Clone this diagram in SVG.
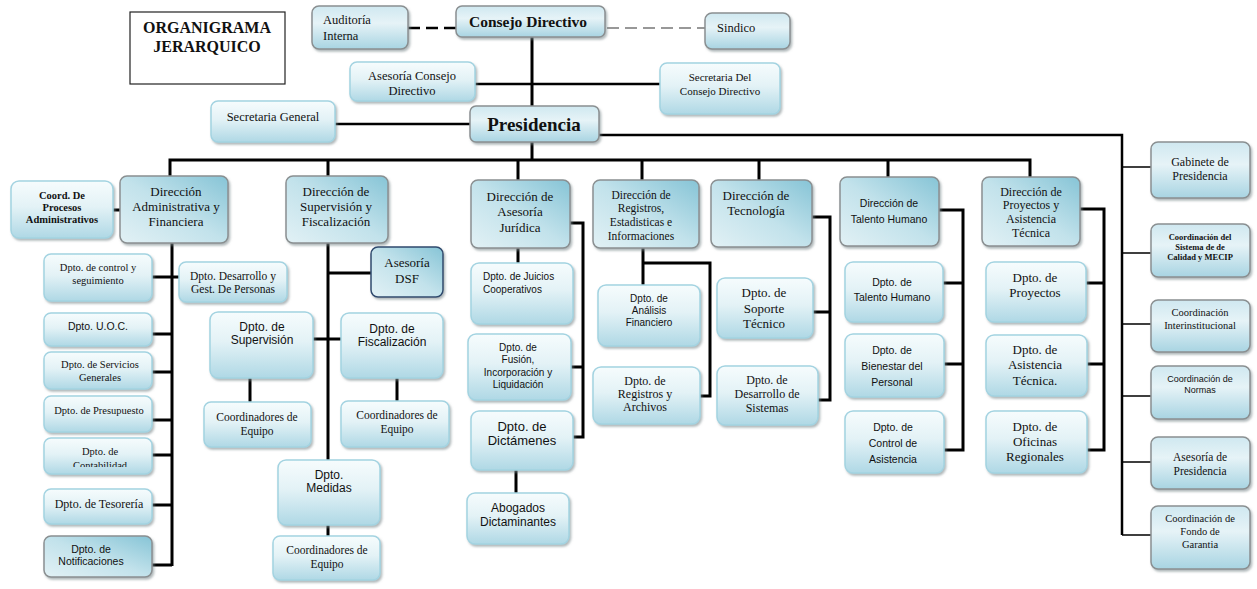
<svg xmlns="http://www.w3.org/2000/svg" width="1257" height="589" viewBox="0 0 1257 589">
<defs>
<linearGradient id="gl" x1="0" y1="0" x2="0" y2="1"><stop offset="0" stop-color="#f6fcfd"/><stop offset="0.45" stop-color="#e3f2f6"/><stop offset="1" stop-color="#afd8e5"/></linearGradient>
<linearGradient id="gd" x1="0" y1="1" x2="1" y2="0"><stop offset="0" stop-color="#e2f1f5"/><stop offset="0.5" stop-color="#c2e2eb"/><stop offset="1" stop-color="#86c4d6"/></linearGradient>
<linearGradient id="gt" x1="0" y1="0" x2="0" y2="1"><stop offset="0" stop-color="#cfe8f0"/><stop offset="0.4" stop-color="#e6f3f7"/><stop offset="1" stop-color="#a8d4e2"/></linearGradient>
<filter id="sh" x="-10%" y="-10%" width="130%" height="140%"><feDropShadow dx="1.5" dy="2" stdDeviation="1" flood-color="#7d8a8e" flood-opacity="0.6"/></filter>
<clipPath id="cc"><rect x="44" y="438" width="108" height="29"/></clipPath>
</defs>
<style>
rect.l{fill:url(#gl);stroke:#a3d3e1;stroke-width:1.5;filter:url(#sh)}
rect.d{fill:url(#gd);stroke:#8a8f91;stroke-width:1.5;filter:url(#sh)}
rect.t{fill:url(#gt);stroke:#8a8f91;stroke-width:1.5;filter:url(#sh)}
rect.n{fill:url(#gd);stroke:#2f4a6e;stroke-width:1.5;filter:url(#sh)}
text{fill:#111;text-anchor:middle}
.s{font-family:"Liberation Serif","Times New Roman",serif}
.a{font-family:"Liberation Sans",Arial,sans-serif}
.bd{font-weight:bold}
#conn path{fill:none;stroke:#000;stroke-width:3}
#conn path.m{stroke-width:2.5}
#conn path.f{stroke-width:1.6}
</style>
<g id="conn">
<path d="M408,28 H457" style="stroke-dasharray:12,6;stroke-width:2.5"/>
<path d="M607,28 H706" style="stroke:#777;stroke-dasharray:12,6;stroke-width:1.5"/>
<path d="M532,37 V107"/>
<path class="m" d="M475,84 H660"/>
<path class="m" d="M335,124 H470"/>
<path class="m" d="M599,135 H1122 V535"/>
<path class="f" d="M1122,167 H1151 M1122,253 H1151 M1122,324 H1151 M1122,396 H1151 M1122,462 H1151 M1122,535 H1151"/>
<path d="M532,142 V160"/>
<path d="M170,177 V160 H1030 V177"/>
<path d="M328,160 V176 M518,160 V180 M642,160 V180 M759,160 V180 M888,160 V177"/>
<path d="M113,210 H120"/>
<path d="M172,243 V566"/>
<path d="M152,277 H179 M152,334 H172 M152,372 H172 M152,420 H172 M152,455 H172 M152,505 H172 M152,565 H172"/>
<path d="M328,243 V460 M328,273 H371 M313,339 H341 M250,378 V402 M397,378 V401 M328,525 V536"/>
<path d="M570,223 H583 V437 H573 M571,367 H583 M518,248 V263 M516,470 V493"/>
<path d="M643,248 V285 M643,263 H710 V396 H700"/>
<path d="M812,217 H830 V400 H818 M813,312 H830"/>
<path d="M939,210 H963 V450 H944 M943,283 H963 M944,364 H963"/>
<path d="M1080,209 H1104 V450 H1087 M1086,283 H1104 M1087,364 H1104"/>
</g>

<g id="titulo"><rect x="130" y="12" width="155" height="72" fill="#fff" stroke="#222" stroke-width="1.2"/><text class="s bd" x="207" y="33" font-size="16">ORGANIGRAMA</text><text class="s bd" x="207" y="52" font-size="16">JERARQUICO</text></g>

<g id="auditoria"><rect class="t" x="312" y="6" width="96" height="43" rx="7"/><text class="s" x="323" y="24" font-size="12.5" style="text-anchor:start">Auditoría</text><text class="s" x="323" y="40" font-size="12.5" style="text-anchor:start">Interna</text></g>
<g id="consejo"><rect class="t" x="456" y="6" width="149" height="31" rx="6"/><text class="s bd" x="528" y="27" font-size="15.5">Consejo Directivo</text></g>
<g id="sindico"><rect class="t" x="705" y="13" width="85" height="36" rx="7"/><text class="s" x="717" y="32" font-size="12.5" style="text-anchor:start">Sindico</text></g>
<g id="asesoria-consejo"><rect class="l" x="350" y="62" width="125" height="39" rx="7"/><text class="s" x="412" y="80" font-size="12.5">Asesoría Consejo</text><text class="s" x="412" y="95" font-size="12.5">Directivo</text></g>
<g id="secretaria-consejo"><rect class="l" x="660" y="63" width="120" height="51" rx="7"/><text class="s" x="720" y="81" font-size="11">Secretaria  Del</text><text class="s" x="720" y="95" font-size="11">Consejo Directivo</text></g>
<g id="secretaria-general"><rect class="l" x="211" y="101" width="124" height="41" rx="7"/><text class="s" x="273" y="121" font-size="12.5">Secretaria General</text></g>
<g id="presidencia"><rect class="t" x="470" y="106" width="129" height="36" rx="6"/><text class="s bd" x="534" y="131" font-size="19">Presidencia</text></g>

<g id="gabinete"><rect class="t" x="1151" y="142" width="99" height="56" rx="7"/><text class="s" x="1200" y="166" font-size="12">Gabinete de</text><text class="s" x="1200" y="180" font-size="12">Presidencia</text></g>
<g id="coord-calidad"><rect class="t" x="1151" y="224" width="99" height="53" rx="7"/><text class="s bd" x="1200" y="240" font-size="8.5">Coordinación del</text><text class="s bd" x="1200" y="250" font-size="8.5">Sistema de  de</text><text class="s bd" x="1200" y="260" font-size="8.5">Calidad  y MECIP</text></g>
<g id="coord-inter"><rect class="t" x="1151" y="300" width="99" height="52" rx="7"/><text class="s" x="1200" y="316" font-size="10.5">Coordinación</text><text class="s" x="1200" y="329" font-size="10.5">Interinstitucional</text></g>
<g id="coord-normas"><rect class="t" x="1151" y="366" width="99" height="53" rx="7"/><text class="a" x="1200" y="382" font-size="9">Coordinación de</text><text class="a" x="1200" y="393" font-size="9">Normas</text></g>
<g id="asesoria-presidencia"><rect class="t" x="1151" y="437" width="99" height="52" rx="7"/><text class="s" x="1200" y="461" font-size="11.5">Asesoría de</text><text class="s" x="1200" y="475" font-size="11.5">Presidencia</text></g>
<g id="coord-fondo"><rect class="t" x="1151" y="506" width="99" height="63" rx="7"/><text class="s" x="1200" y="522" font-size="10.5">Coordinación de</text><text class="s" x="1200" y="535" font-size="10.5">Fondo de</text><text class="s" x="1200" y="548" font-size="10.5">Garantia</text></g>

<g id="coord-procesos"><rect class="l" x="11" y="181" width="102" height="57" rx="8"/><text class="s bd" x="62" y="199" font-size="10.5">Coord. De</text><text class="s bd" x="62" y="211" font-size="10.5">Procesos</text><text class="s bd" x="62" y="223" font-size="10.5">Administrativos</text></g>
<g id="dir-adm"><rect class="d" x="120" y="176" width="108" height="67" rx="7"/><text class="s" x="176" y="196" font-size="13">Dirección</text><text class="s" x="176" y="211" font-size="13">Administrativa y</text><text class="s" x="176" y="226" font-size="13">Financiera</text></g>
<g id="dpto-control"><rect class="l" x="44" y="254" width="108" height="47" rx="7"/><text class="s" x="98" y="271" font-size="10.5">Dpto.  de control y</text><text class="s" x="98" y="284" font-size="10.5">seguimiento</text></g>
<g id="dpto-desarrollo-personas"><rect class="l" x="179" y="262" width="108" height="40" rx="7"/><text class="s" x="233" y="280" font-size="11.5">Dpto. Desarrollo y</text><text class="s" x="233" y="293" font-size="11.5">Gest. De Personas</text></g>
<g id="dpto-uoc"><rect class="l" x="44" y="313" width="108" height="33" rx="7"/><text class="a" x="98" y="330" font-size="10.5">Dpto. U.O.C.</text></g>
<g id="dpto-servicios"><rect class="l" x="44" y="352" width="108" height="37" rx="7"/><text class="s" x="100" y="368" font-size="10.5">Dpto. de Servicios</text><text class="s" x="100" y="381" font-size="10.5">Generales</text></g>
<g id="dpto-presupuesto"><rect class="l" x="44" y="396" width="108" height="36" rx="7"/><text class="s" x="99" y="414" font-size="10.5">Dpto. de Presupuesto</text></g>
<g id="dpto-contabilidad"><rect class="l" x="44" y="438" width="108" height="36" rx="7"/><g clip-path="url(#cc)"><text class="s" x="100" y="455" font-size="10.5">Dpto. de</text><text class="s" x="100" y="469" font-size="10.5">Contabilidad</text></g></g>
<g id="dpto-tesoreria"><rect class="l" x="44" y="489" width="108" height="35" rx="7"/><text class="s" x="99" y="508" font-size="12">Dpto. de Tesorería</text></g>
<g id="dpto-notificaciones"><rect class="d" x="44" y="536" width="108" height="41" rx="7"/><text class="a" x="91" y="553" font-size="10.5">Dpto. de</text><text class="a" x="91" y="565" font-size="10.5">Notificaciones</text></g>

<g id="dir-supervision"><rect class="d" x="286" y="176" width="102" height="67" rx="7"/><text class="s" x="336" y="196" font-size="13">Dirección de</text><text class="s" x="336" y="211" font-size="13">Supervisión y</text><text class="s" x="336" y="226" font-size="13">Fiscalización</text></g>
<g id="asesoria-dsf"><rect class="n" x="371" y="247" width="72" height="50" rx="7"/><text class="s" x="407" y="267" font-size="13">Asesoría</text><text class="s" x="407" y="283" font-size="13">DSF</text></g>
<g id="dpto-supervision"><rect class="l" x="210" y="312" width="103" height="66" rx="8"/><text class="a" x="262" y="331" font-size="12">Dpto. de</text><text class="a" x="262" y="344" font-size="12">Supervisión</text></g>
<g id="dpto-fiscalizacion"><rect class="l" x="341" y="313" width="102" height="65" rx="8"/><text class="a" x="392" y="333" font-size="12">Dpto. de</text><text class="a" x="392" y="346" font-size="12">Fiscalización</text></g>
<g id="coord-equipo-1"><rect class="l" x="204" y="402" width="107" height="45" rx="7"/><text class="s" x="257" y="421" font-size="11.5">Coordinadores de</text><text class="s" x="257" y="435" font-size="11.5">Equipo</text></g>
<g id="coord-equipo-2"><rect class="l" x="341" y="401" width="108" height="46" rx="7"/><text class="s" x="397" y="419" font-size="11.5">Coordinadores de</text><text class="s" x="397" y="433" font-size="11.5">Equipo</text></g>
<g id="dpto-medidas"><rect class="l" x="278" y="460" width="102" height="65" rx="8"/><text class="a" x="329" y="479" font-size="12">Dpto.</text><text class="a" x="329" y="492" font-size="12">Medidas</text></g>
<g id="coord-equipo-3"><rect class="l" x="273" y="536" width="107" height="44" rx="7"/><text class="s" x="327" y="554" font-size="11.5">Coordinadores de</text><text class="s" x="327" y="568" font-size="11.5">Equipo</text></g>

<g id="dir-juridica"><rect class="d" x="471" y="180" width="99" height="68" rx="7"/><text class="s" x="520" y="201" font-size="13">Dirección de</text><text class="s" x="520" y="216" font-size="13">Asesoría</text><text class="s" x="520" y="232" font-size="13">Jurídica</text></g>
<g id="dpto-juicios"><rect class="l" x="471" y="263" width="102" height="61" rx="8"/><text class="a" x="483" y="280" font-size="10" style="text-anchor:start">Dpto. de Juicios</text><text class="a" x="483" y="293" font-size="10" style="text-anchor:start">Cooperativos</text></g>
<g id="dpto-fusion"><rect class="l" x="468" y="334" width="103" height="66" rx="8"/><text class="a" x="518" y="351" font-size="10">Dpto. de</text><text class="a" x="518" y="363" font-size="10">Fusión,</text><text class="a" x="518" y="376" font-size="10">Incorporación y</text><text class="a" x="518" y="388" font-size="10">Liquidación</text></g>
<g id="dpto-dictamenes"><rect class="l" x="471" y="411" width="102" height="59" rx="8"/><text class="a" x="522" y="431" font-size="13">Dpto. de</text><text class="a" x="522" y="445" font-size="13">Dictámenes</text></g>
<g id="abogados"><rect class="l" x="467" y="493" width="102" height="51" rx="8"/><text class="a" x="518" y="512" font-size="12">Abogados</text><text class="a" x="518" y="526" font-size="12">Dictaminantes</text></g>

<g id="dir-registros"><rect class="d" x="593" y="180" width="106" height="68" rx="7"/><text class="s" x="641" y="199" font-size="11.5">Dirección de</text><text class="s" x="641" y="212" font-size="11.5">Registros,</text><text class="s" x="641" y="226" font-size="11.5">Estadisticas e</text><text class="s" x="641" y="240" font-size="11.5">Informaciones</text></g>
<g id="dpto-analisis"><rect class="l" x="598" y="285" width="102" height="61" rx="8"/><text class="a" x="649" y="302" font-size="10">Dpto. de</text><text class="a" x="649" y="314" font-size="10">Análisis</text><text class="a" x="649" y="326" font-size="10">Financiero</text></g>
<g id="dpto-registros"><rect class="l" x="593" y="367" width="107" height="57" rx="8"/><text class="s" x="645" y="385" font-size="12">Dpto. de</text><text class="s" x="645" y="398" font-size="12">Registros y</text><text class="s" x="645" y="411" font-size="12">Archivos</text></g>

<g id="dir-tecnologia"><rect class="d" x="711" y="180" width="101" height="67" rx="7"/><text class="s" x="756" y="200" font-size="13">Dirección de</text><text class="s" x="756" y="215" font-size="13">Tecnología</text></g>
<g id="dpto-soporte"><rect class="l" x="717" y="278" width="96" height="60" rx="8"/><text class="s" x="764" y="297" font-size="13">Dpto. de</text><text class="s" x="764" y="313" font-size="13">Soporte</text><text class="s" x="764" y="328" font-size="13">Técnico</text></g>
<g id="dpto-desarrollo-sistemas"><rect class="l" x="717" y="366" width="101" height="59" rx="8"/><text class="s" x="767" y="384" font-size="12">Dpto. de</text><text class="s" x="767" y="398" font-size="12">Desarrollo de</text><text class="s" x="767" y="412" font-size="12">Sistemas</text></g>

<g id="dir-talento"><rect class="d" x="840" y="177" width="99" height="69" rx="7"/><text class="a" x="889" y="207" font-size="10.5">Dirección de</text><text class="a" x="889" y="223" font-size="10.5">Talento Humano</text></g>
<g id="dpto-talento"><rect class="l" x="845" y="262" width="98" height="60" rx="8"/><text class="a" x="892" y="286" font-size="10.5">Dpto. de</text><text class="a" x="892" y="301" font-size="10.5">Talento Humano</text></g>
<g id="dpto-bienestar"><rect class="l" x="845" y="334" width="99" height="63" rx="8"/><text class="a" x="892" y="354" font-size="10.5">Dpto. de</text><text class="a" x="892" y="370" font-size="10.5">Bienestar del</text><text class="a" x="892" y="386" font-size="10.5">Personal</text></g>
<g id="dpto-control-asistencia"><rect class="l" x="845" y="411" width="99" height="62" rx="8"/><text class="a" x="893" y="431" font-size="10.5">Dpto. de</text><text class="a" x="893" y="447" font-size="10.5">Control de</text><text class="a" x="893" y="463" font-size="10.5">Asistencia</text></g>

<g id="dir-proyectos"><rect class="d" x="982" y="177" width="98" height="69" rx="7"/><text class="s" x="1031" y="196" font-size="12">Dirección de</text><text class="s" x="1031" y="209" font-size="12">Proyectos y</text><text class="s" x="1031" y="223" font-size="12">Asistencia</text><text class="s" x="1031" y="237" font-size="12">Técnica</text></g>
<g id="dpto-proyectos"><rect class="l" x="986" y="262" width="100" height="60" rx="8"/><text class="s" x="1035" y="282" font-size="13">Dpto. de</text><text class="s" x="1035" y="297" font-size="13">Proyectos</text></g>
<g id="dpto-asistencia"><rect class="l" x="986" y="335" width="101" height="61" rx="8"/><text class="s" x="1035" y="354" font-size="13">Dpto. de</text><text class="s" x="1035" y="369" font-size="13">Asistencia</text><text class="s" x="1035" y="385" font-size="13">Técnica.</text></g>
<g id="dpto-oficinas"><rect class="l" x="986" y="411" width="101" height="62" rx="8"/><text class="s" x="1035" y="431" font-size="13">Dpto. de</text><text class="s" x="1035" y="446" font-size="13">Oficinas</text><text class="s" x="1035" y="461" font-size="13">Regionales</text></g>
</svg>
